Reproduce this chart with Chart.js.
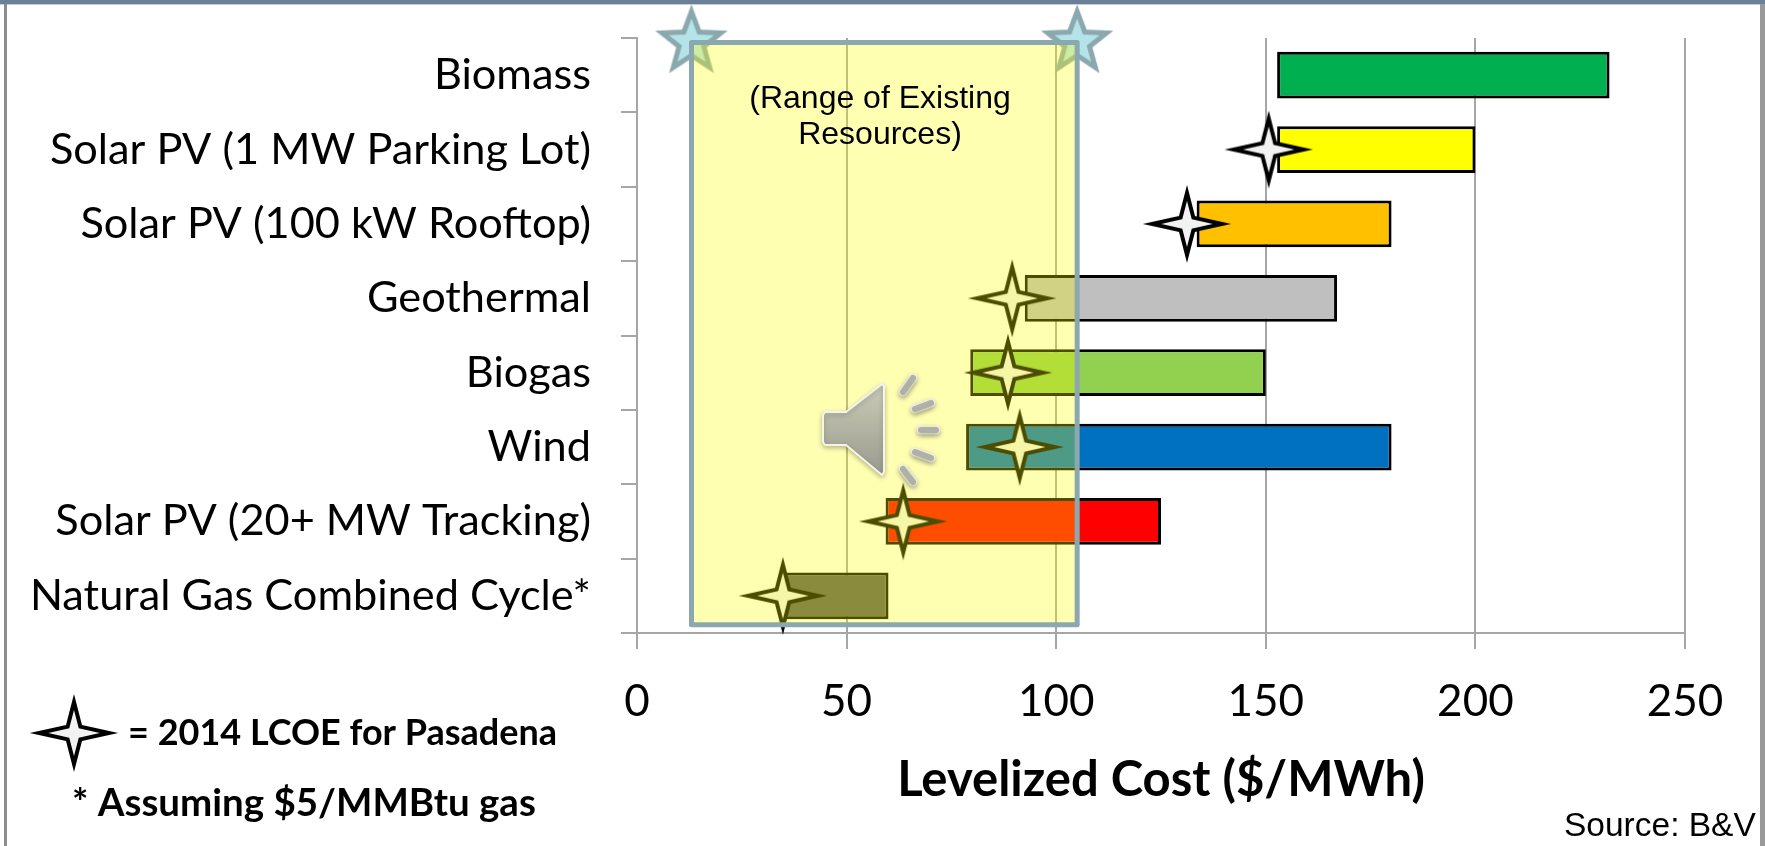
<!DOCTYPE html>
<html>
<head>
<meta charset="utf-8">
<title>Levelized Cost</title>
<script src="https://cdn.jsdelivr.net/npm/chart.js@4"></script>
<style>
html, body { margin: 0; padding: 0; background: #fff; overflow: hidden; }
#wrap { position: relative; width: 1765px; height: 846px; }
#frameTop { position: absolute; left: 0; top: 0; width: 1765px; height: 4px; background: #6a8098; border-bottom: 1px solid #ccc; }
#frameLeft { position: absolute; left: 4px; top: 4px; width: 3px; height: 842px; background: #8c8c8c; }
#frameRight { position: absolute; left: 1760px; top: 4px; width: 5px; height: 842px; background: #999; }
</style>
</head>
<body>
<div id="wrap">
<canvas id="plot" width="1765" height="846"></canvas>
<div id="frameTop"></div><div id="frameLeft"></div><div id="frameRight"></div>
</div>
<script>
// Datos del grafico
const categories = ['Biomass', 'Solar PV (1 MW Parking Lot)', 'Solar PV (100 kW Rooftop)', 'Geothermal', 'Biogas', 'Wind', 'Solar PV (20+ MW Tracking)', 'Natural Gas Combined Cycle*'];
const lowCost = [152.7, 152.7, 133.5, 92.5, 79.5, 78.5, 59.3, 35];
const highCost = [232, 200, 180, 167, 150, 180, 125, 60];
const lcoe2014 = [null, 150.7, 131.2, 89.5, 88.5, 91.3, 63.5, 34.8];
const barColors = ['#00b050', '#ffff00', '#ffc000', '#bfbfbf', '#92d050', '#0070c0', '#ff0000', '#595959'];
const xTicks = [0, 50, 100, 150, 200, 250];
const existingRange = [13, 105];
const existingRows = [0.06, 7.89];

// Estrella de cuatro puntas
let makeFourStar = (fill, stroke) => {
	let c = document.createElement('canvas');
	c.width = 90; c.height = 90;
	let g = c.getContext('2d');
	g.translate(45, 45);
	g.beginPath();
	for (let i = 0; i < 8; i++) {
		let rx = i % 2 === 0 ? 35 : 9;
		let ry = i % 2 === 0 ? 31 : 9;
		let a = i * Math.PI / 4 - Math.PI / 2;
		g[i === 0 ? 'moveTo' : 'lineTo'](rx * Math.cos(a), ry * Math.sin(a));
	}
	g.closePath();
	g.fillStyle = fill;
	g.fill();
	g.lineWidth = 4;
	g.miterLimit = 10;
	g.strokeStyle = stroke;
	g.stroke();
	return c;
};

// Estrella de cinco puntas de los extremos del rango
let makeFiveStar = () => {
	let c = document.createElement('canvas');
	c.width = 90; c.height = 90;
	let g = c.getContext('2d');
	g.translate(45, 45);
	g.beginPath();
	for (let i = 0; i < 10; i++) {
		let r = i % 2 === 0 ? 31 : 13;
		let a = i * Math.PI / 5 - Math.PI / 2;
		g[i === 0 ? 'moveTo' : 'lineTo'](r * Math.cos(a), r * Math.sin(a));
	}
	g.closePath();
	g.fillStyle = '#b4e4ea';
	g.fill();
	g.lineWidth = 5;
	g.strokeStyle = '#8aa8ad';
	g.stroke();
	return c;
};

const fourStar = makeFourStar('#f2f2f2', '#000');

let drawSpeaker = (ctx) => {
	ctx.save();
	ctx.shadowColor = 'rgba(0,0,0,0.25)';
	ctx.shadowBlur = 5;
	ctx.shadowOffsetY = 2;
	let grad = ctx.createLinearGradient(0, 383, 0, 475);
	grad.addColorStop(0, '#ccccb8');
	grad.addColorStop(1, '#9a9a8e');
	ctx.beginPath();
	ctx.moveTo(825, 412);
	ctx.lineTo(846, 412);
	ctx.lineTo(882, 384);
	ctx.lineTo(884, 386);
	ctx.lineTo(884, 472);
	ctx.lineTo(882, 475);
	ctx.lineTo(846, 445);
	ctx.lineTo(825, 445);
	ctx.lineTo(823, 442);
	ctx.lineTo(823, 415);
	ctx.closePath();
	ctx.fillStyle = grad;
	ctx.fill();
	ctx.lineWidth = 2;
	ctx.strokeStyle = '#f4f4ec';
	ctx.stroke();
	let rays = [[903, 392, 913, 378], [915, 409, 931, 403], [921, 430, 936, 430], [915, 452, 931, 458], [903, 469, 913, 482]];
	ctx.lineCap = 'round';
	rays.forEach(r => {
		ctx.beginPath();
		ctx.moveTo(r[0], r[1]);
		ctx.lineTo(r[2], r[3]);
		ctx.lineWidth = 9;
		ctx.strokeStyle = '#f4f4ec';
		ctx.stroke();
		ctx.lineWidth = 6;
		ctx.strokeStyle = '#b0b0a4';
		ctx.stroke();
	});
	ctx.restore();
};

// Rectangulo translucido y textos sueltos
const overlayPlugin = {
	id: 'overlay',
	afterDatasetsDraw(chart) {
		let ctx = chart.ctx;
		let x = chart.scales.x, y2 = chart.scales.y2;
		let left = x.getPixelForValue(existingRange[0]);
		let right = x.getPixelForValue(existingRange[1]);
		let top = y2.getPixelForValue(existingRows[0]);
		let bottom = y2.getPixelForValue(existingRows[1]);
		ctx.save();
		ctx.fillStyle = 'rgba(255,255,0,0.3)';
		ctx.fillRect(left, top, right - left, bottom - top);
		ctx.strokeStyle = '#8aa8ad';
		ctx.lineWidth = 5;
		ctx.lineJoin = 'round';
		ctx.strokeRect(left, top, right - left, bottom - top);

		ctx.fillStyle = '#000';
		ctx.textAlign = 'center';
		ctx.textBaseline = 'alphabetic';
		ctx.font = '32px "Liberation Sans"';
		ctx.fillText('(Range of Existing', 880, 108);
		ctx.fillText('Resources)', 880, 144);

		drawSpeaker(ctx);

		ctx.fillStyle = '#000';
		ctx.textAlign = 'left';
		ctx.drawImage(fourStar, 29, 688);
		ctx.font = 'bold 36px Lato';
		ctx.fillText('= 2014 LCOE for Pasadena', 128, 745);
		ctx.font = 'bold 38.5px Lato';
		ctx.fillText('* Assuming $5/MMBtu gas', 72, 816);
		ctx.font = '33.5px "Liberation Sans"';
		ctx.fillText('Source: B&V', 1564, 836);
		ctx.restore();
	}
};

let plotRef = document.getElementById('plot');

let config = {
	type: 'bar',
	data: {
		labels: categories,
		datasets: [
			{
				type: 'scatter',
				data: lcoe2014.map((v, i) => ({x: v, y: categories[i]})).filter(p => p.x !== null),
				pointStyle: fourStar,
				order: 0,
				clip: false
			},
			{
				type: 'scatter',
				yAxisID: 'y2',
				data: existingRange.map(v => ({x: v, y: existingRows[0]})),
				pointStyle: makeFiveStar(),
				order: 0,
				clip: false
			},
			{
				data: lowCost.map((v, i) => [v, highCost[i]]),
				backgroundColor: barColors,
				borderColor: '#000',
				borderWidth: 3,
				borderSkipped: false,
				grouped: false,
				barPercentage: 0.63,
				categoryPercentage: 1,
				order: 1
			}
		]
	},
	options: {
		indexAxis: 'y',
		responsive: false,
		animation: false,
		layout: {padding: {right: 80, top: 38, left: 0, bottom: 0}},
		plugins: {legend: {display: false}, tooltip: {enabled: false}},
		scales: {
			x: {
				type: 'linear',
				min: 0,
				max: 250,
				afterBuildTicks: s => { s.ticks = xTicks.map(v => ({value: v})); },
				afterFit: s => { s.height = 213; },
				grid: {color: '#a6a6a6', lineWidth: 2, tickLength: 16},
				border: {color: '#a6a6a6', width: 2},
				ticks: {color: '#000', padding: 26, maxRotation: 0, font: {family: 'Lato', size: 44}},
				title: {display: true, text: 'Levelized Cost ($/MWh)', color: '#000', padding: {top: 0, bottom: 36}, font: {family: 'Lato', size: 49, weight: 'bold'}}
			},
			y: {
				type: 'category',
				// sin margen extra por la primera etiqueta
				afterFit: s => { s.width = 637; s.paddingTop = 0; s.paddingBottom = 0; },
				grid: {drawOnChartArea: false, color: '#a6a6a6', lineWidth: 2, tickLength: 16},
				border: {color: '#a6a6a6', width: 2},
				ticks: {color: '#000', padding: 30, autoSkip: false, font: {family: 'Lato', size: 43.3}}
			},
			y2: {type: 'linear', display: false, min: 0, max: 8, reverse: true, offset: false}
		}
	},
	plugins: [overlayPlugin]
};

let chart = new Chart(plotRef, config);
</script>
</body>
</html>
